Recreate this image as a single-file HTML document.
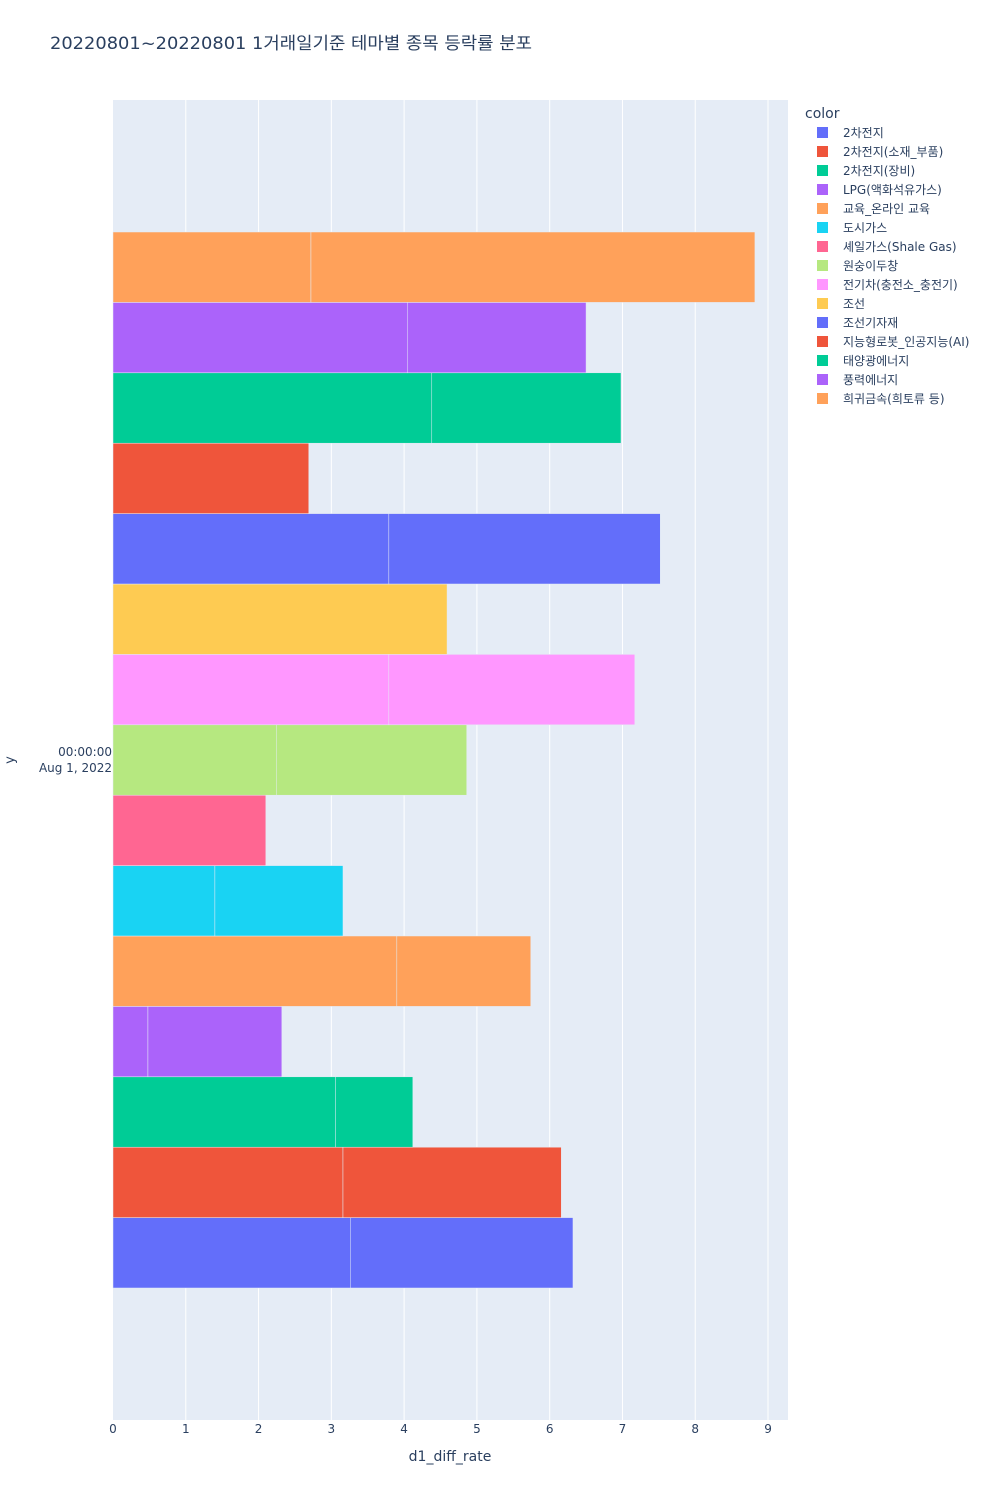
<!DOCTYPE html>
<html><head><meta charset="utf-8">
<style>
body{margin:0;background:#fff;font-family:"DejaVu Sans","Noto Sans CJK KR",sans-serif;}
svg text{font-family:"DejaVu Sans","Noto Sans CJK KR",sans-serif;fill:#2a3f5f;}
</style></head>
<body>
<svg id="chart" width="1000" height="1500" xmlns="http://www.w3.org/2000/svg">
<text x="50" y="49" font-size="17" textLength="482" lengthAdjust="spacingAndGlyphs">20220801~20220801 1거래일기준 테마별 종목 등락률 분포</text>
<rect x="113" y="100" width="675" height="1320" fill="#e5ecf6"/>
<g id="grid"></g><g id="bars"></g><g id="xticks"></g><g id="legend"></g>
<text x="112" y="756" font-size="12" text-anchor="end">00:00:00</text>
<text x="112" y="772" font-size="12" text-anchor="end">Aug 1, 2022</text>
<text x="14" y="760" font-size="13" transform="rotate(-90 14 760)" text-anchor="middle">y</text>
<text x="450" y="1461" font-size="14" text-anchor="middle">d1_diff_rate</text>
<text x="805" y="118" font-size="14">color</text>
</svg>
<script>
const categories=["2차전지","2차전지(소재_부품)","2차전지(장비)","LPG(액화석유가스)","교육_온라인 교육","도시가스","셰일가스(Shale Gas)","원숭이두창","전기차(충전소_충전기)","조선","조선기자재","지능형로봇_인공지능(AI)","태양광에너지","풍력에너지","희귀금속(희토류 등)"];
const seg1=[3.26,3.16,3.06,0.48,3.9,1.4,2.1,2.25,3.79,4.59,3.79,2.69,4.38,4.05,2.72];
const seg2=[3.06,3.0,1.06,1.84,1.84,1.76,0,2.61,3.38,0,3.73,0,2.6,2.45,6.1];
const colors=["#636efa","#EF553B","#00cc96","#ab63fa","#FFA15A","#19d3f3","#FF6692","#B6E880","#FF97FF","#FECB52","#636efa","#EF553B","#00cc96","#ab63fa","#FFA15A"];
const xTicks=[0,1,2,3,4,5,6,7,8,9];
const NS="http://www.w3.org/2000/svg";
const x0=113,xs=72.78;
const X=v=>x0+v*xs;
const bandTop=232,bandH=1056/categories.length;
const Y=i=>bandTop+(categories.length-1-i)*bandH;
function mk(t,a,p){const e=document.createElementNS(NS,t);for(const k in a)e.setAttribute(k,a[k]);document.getElementById(p).appendChild(e);return e;}
xTicks.forEach(t=>{
 if(t>0){const l=mk('line',{x1:X(t),x2:X(t),y1:100,y2:1420,stroke:'#fff','stroke-width':1},'grid');
 
 }
 const tx=mk('text',{x:X(t),y:1433,'font-size':12,'text-anchor':'middle'},'xticks');tx.textContent=t;
 
 
});
categories.forEach((c,i)=>{
 [[0,seg1[i]],[seg1[i],seg2[i]]].forEach(([s,w])=>{
  if(w<=0)return;
  const r=mk('rect',{x:X(s),y:Y(i),width:w*xs,height:bandH,fill:colors[i],stroke:'#e5ecf6','stroke-width':0.5},'bars');
  
  
 });
 const ly=132+i*19;
 const sq=mk('rect',{x:817,y:ly-5,width:11,height:11,fill:colors[i]},'legend');
 
 
 const lt=mk('text',{x:843,y:ly+5,'font-size':12},'legend');lt.textContent=c;
 
 
});
</script>
</body></html>
